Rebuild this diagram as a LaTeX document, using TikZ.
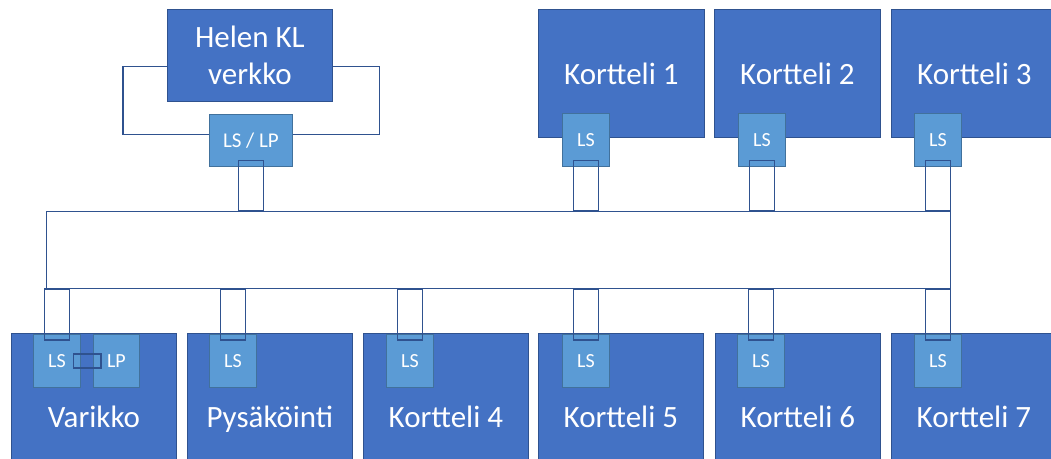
\documentclass[tikz,border=0pt]{standalone}
\usepackage{fontspec}
\setmainfont{Carlito}

\definecolor{blokfill}{HTML}{4472C4}
\definecolor{blokline}{HTML}{2F528F}
\definecolor{lsfill}{HTML}{5B9BD5}
\definecolor{lsline}{HTML}{41719C}

\tikzset{
	blok/.style={draw=blokline, fill=blokfill, line width=0.8pt, text=white, anchor=north west,
		minimum width=165pt, font=\fontsize{31}{37}\selectfont, align=center, inner sep=0pt},
	alablok/.style={blok, minimum height=170pt, text height=22pt, text depth=4pt},
	lsbox/.style={draw=lsline, fill=lsfill, line width=0.8pt, text=white, anchor=north west,
		minimum width=47pt, minimum height=53pt, font=\fontsize{20}{24}\selectfont, inner sep=0pt},
	wire/.style={draw=blokline, line width=1.1pt},
	link/.style={draw=blokline, line width=1.3pt}
}

\begin{document}
\begin{tikzpicture}[x=1pt, y=-1pt]

	\useasboundingbox (0,0) rectangle (1051,458);
	\clip (0,0) rectangle (1051,458);

	\node [blok, minimum height=92pt] (helen) at (167,9) {Helen KL\\verkko};
	\node [blok, minimum width=166pt, minimum height=128pt] (k1) at (538,9) {Kortteli 1};
	\node [blok, minimum width=166pt, minimum height=128pt] (k2) at (714,9) {Kortteli 2};
	\node [blok, minimum width=166pt, minimum height=128pt] (k3) at (891,9) {Kortteli 3};

	\node [lsbox, minimum width=83pt, minimum height=52pt, font=\fontsize{21}{24}\selectfont] (lslp) at (209,114) {LS / LP};
	\node [lsbox] (ls1) at (562,113) {LS};
	\node [lsbox] (ls2) at (738,113) {LS};
	\node [lsbox] (ls3) at (914,113) {LS};

	\draw [wire] ([yshift=-11pt]helen.west) -- ++(-44,0) |- ([yshift=6pt]lslp.west);
	\draw [wire] ([yshift=-11pt]helen.east) -- ++(47,0) |- ([yshift=6pt]lslp.east);

	\node [draw=blokline, line width=1pt, anchor=north west, minimum width=904pt, minimum height=77pt] (bus) at (46,211) {};

	\node [alablok] (varikko) at (11,333) {Varikko};
	\node [alablok] (pysakointi) at (187,333) {Pysäköinti};
	\node [alablok] (k4) at (363,333) {Kortteli 4};
	\node [alablok] (k5) at (538,333) {Kortteli 5};
	\node [alablok] (k6) at (715,333) {Kortteli 6};
	\node [alablok] (k7) at (891,333) {Kortteli 7};

	\node [lsbox] (lsv) at (33,334) {LS};
	\node [lsbox, minimum width=46pt] (lpv) at (93,334) {LP};
	\node [lsbox] (lsp) at (209,334) {LS};
	\node [lsbox] (ls4) at (386,334) {LS};
	\node [lsbox] (ls5) at (562,334) {LS};
	\node [lsbox] (ls6) at (737,334) {LS};
	\node [lsbox] (ls7) at (914,334) {LS};

	\draw [link] ([xshift=-7pt,yshift=7pt]lsv.east) rectangle ([xshift=8pt,yshift=-7pt]lpv.west);

	\foreach \n in {lslp,ls1,ls2,ls3}
		\draw [link] ([xshift=-12.5pt,yshift=6pt]\n.south) rectangle ([xshift=12.5pt]\n.south |- bus.north);
	\foreach \n in {lsv,lsp,ls4,ls5,ls6,ls7}
		\draw [link] ([xshift=-12.5pt,yshift=-6pt]\n.north) rectangle ([xshift=12.5pt]\n.north |- bus.south);

\end{tikzpicture}
\end{document}
